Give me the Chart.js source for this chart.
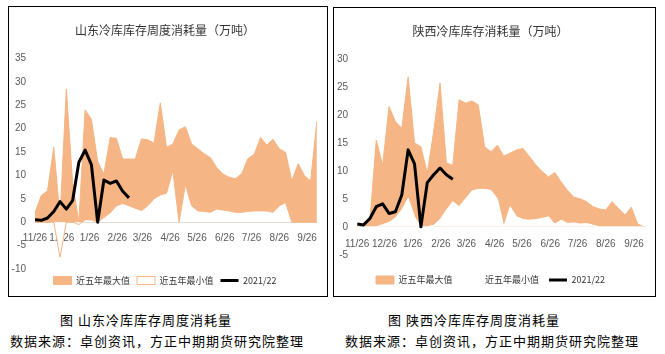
<!DOCTYPE html>
<html>
<head>
<meta charset="utf-8">
<script src="https://cdn.jsdelivr.net/npm/chart.js@4.4.1/dist/chart.umd.min.js"></script>
<style>
  body { margin: 0; width: 665px; height: 354px; background: #fff; position: relative; overflow: hidden;
         font-family: "Noto Sans CJK SC", sans-serif; }
  .panel { position: absolute; border: 1px solid #000; }
  #p1 { left: 8px; top: 6px; width: 318px; height: 289px; }
  #p2 { left: 333px; top: 7px; width: 321px; height: 288px; }
  .cap { position: absolute; font-size: 13px; color: #000; letter-spacing: 1px; white-space: nowrap; }
</style>
</head>
<body>
<div class="panel" id="p1"><canvas id="chart1" width="318" height="289"></canvas></div>
<div class="panel" id="p2"><canvas id="chart2" width="321" height="288"></canvas></div>
<div class="cap" style="left:60px;top:310px;">图 山东冷库库存周度消耗量</div>
<div class="cap" style="left:10px;top:331px;">数据来源：卓创资讯，方正中期期货研究院整理</div>
<div class="cap" style="left:388px;top:310px;">图 陕西冷库库存周度消耗量</div>
<div class="cap" style="left:345px;top:331px;">数据来源：卓创资讯，方正中期期货研究院整理</div>
<script>
// month ticks, as days after 11/26
const tickDays = [0, 30, 61, 92, 120, 151, 181, 212, 242, 273, 304];
const tickLabels = ["11/26", "12/26", "1/26", "2/26", "3/26", "4/26", "5/26", "6/26", "7/26", "8/26", "9/26"];
const seriesNames = ["近五年最大值", "近五年最小值", "2021/22"];

// Shandong, weekly
const sdMax = [2, 5.7, 6.7, 16, 1, 28.5, 8.5, 0, 24, 22, 13, 10.3, 18.1, 17.9, 13.5, 13.5,
               13.5, 17.8, 17.6, 16.9, 25.5, 16, 16.7, 19.7, 20.4, 16.7, 15.7, 14.6, 13.8, 11.7, 10.3, 9.6,
               9.3, 10.4, 13.6, 14.5, 18.1, 16.5, 17.7, 15.7, 14.9, 8.8, 12.5, 10, 8.8, 21.6];
const sdMin = [0, 0, 0, 0, -7.5, 0, 0, -0.5, 0.5, 0.5, 0, 1, 2, 3.5, 4, 3.5,
               3, 2.5, 3.5, 5, 5.8, 6.2, 11, 0, 8, 3.5, 2.4, 2.3, 2.1, 2.8, 2.6, 2.4,
               2.1, 2.1, 2.3, 2.4, 2.4, 2.4, 2.1, 3.5, 4.2, 0, 0, 0, 0, 0];
const sdCur = [0.5, 0.4, 0.9, 2.3, 4.4, 2.8, 4.6, 12.8, 15.4, 12.3, 0, 9.0, 8.3, 8.8, 6.6, 5.2];
const sdTicks = [-10, -5, 0, 5, 10, 15, 20, 25, 30, 35];

// Shaanxi, weekly
const sxMax = [0, 0.3, 1, 15.5, 11, 21.5, 18.8, 17.6, 26.8, 15, 14.3, 9.6, 17, 25.7, 11.4, 11,
               22.7, 22.1, 22.5, 21.8, 14.3, 13.4, 14.6, 12.6, 13.2, 13.75, 14, 12.6, 11.1, 9.9, 8.9, 9.7,
               8, 6.5, 5.3, 5, 4.5, 3.6, 3.2, 3, 4.5, 3.3, 2.1, 3.5, 0.5, 0];
const sxMin = [0, 0, 0, 0, 0.4, 0.8, 1.6, 3, 5.1, 1.8, 0, 0, 0.3, 1.3, 3, 4.5,
               3.6, 5, 6.4, 6.7, 6.7, 6.5, 5, 0, 3.6, 1.8, 1.3, 1.2, 1.3, 1.5, 1.8, 0.5,
               1.2, 0.6, 0.7, 0.5, 0.6, 0.3, 0, 0, 0, 0, 0, 0, 0, 0];
const sxCur = [0.5, 0.35, 1.5, 3.6, 4.1, 2.4, 2.7, 5.7, 13.75, 11.25, 0, 7.9, 9.3, 10.5, 9.3, 8.5];
const sxTicks = [-5, 0, 5, 10, 15, 20, 25, 30];

const orange = "#F5B584";
const cjk = "'Noto Sans CJK SC', sans-serif";
const narrow = "'Liberation Sans Narrow', 'Liberation Sans', sans-serif";

//weekly values -> points on the day axis
function toPoints(vals){
    return vals.map((v, i) => ({x: i * 7, y: v}));
}

function drawChart(id, cfg){
    var ctx = document.getElementById(id).getContext('2d');
    var datasets = [
        {label: seriesNames[0], data: toPoints(cfg.max), borderColor: orange, borderWidth: 1,
         backgroundColor: orange, fill: 'origin', pointRadius: 0, pointStyle: 'rect', tension: 0, order: 2},
        {label: seriesNames[1], data: toPoints(cfg.min), borderColor: cfg.minBorder, borderWidth: 1,
         backgroundColor: "#fff", fill: 'origin', pointRadius: 0, pointStyle: 'rect', tension: 0, order: 1},
        {label: seriesNames[2], data: toPoints(cfg.cur), borderColor: "#000", borderWidth: 3,
         backgroundColor: "#000", fill: false, pointRadius: 0, pointStyle: 'line', tension: 0,
         borderJoinStyle: 'round', order: 0}
    ];
    return new Chart(ctx, {
        type: 'line',
        data: {datasets: datasets},
        options: {
            responsive: false,
            animation: false,
            layout: {padding: {left: 0, right: cfg.padRight, top: 0, bottom: cfg.padBottom}},
            scales: {
                x: {
                    type: 'linear', position: {y: 0}, min: 0, max: 315, z: 1,
                    grid: {display: false, drawTicks: false},
                    border: {display: true, color: "#D9D9D9", width: 1},
                    afterBuildTicks: s => { s.ticks = tickDays.map(d => ({value: d})); },
                    ticks: {autoSkip: false, maxRotation: 0, padding: cfg.xPad, color: "#595959",
                            font: {family: narrow, size: 10}, callback: (v, i) => tickLabels[i]}
                },
                y: {
                    min: cfg.yMin, max: cfg.yMax,
                    grid: {display: false, drawTicks: false},
                    border: {display: false},
                    afterBuildTicks: s => { s.ticks = cfg.yTicks.map(v => ({value: v})); },
                    afterFit: s => { s.width = cfg.yWidth; },
                    ticks: {padding: 9, color: "#595959", font: {family: narrow, size: 10}}
                }
            },
            plugins: {
                tooltip: {enabled: false},
                title: {display: true, text: cfg.title, color: "#333",
                        font: {family: cjk, size: 12, weight: 'normal'},
                        padding: {top: cfg.titleTop, bottom: cfg.titleBottom}},
                legend: {
                    position: 'bottom',
                    labels: {usePointStyle: true, pointStyleWidth: 18, boxHeight: 8, padding: cfg.legPad,
                             color: "#333", font: {family: cjk, size: 9},
                             sort: (a, b) => a.datasetIndex - b.datasetIndex}
                }
            }
        }
    });
}

drawChart("chart1", {title: "山东冷库库存周度消耗量（万吨）", max: sdMax, min: sdMin, cur: sdCur,
    minBorder: orange, yMin: -10, yMax: 35, yTicks: sdTicks, yWidth: 26, padRight: 6, padBottom: 1,
    xPad: 10, titleTop: 16, titleBottom: 21, legPad: 7});
drawChart("chart2", {title: "陕西冷库库存消耗量（万吨）", max: sxMax, min: sxMin, cur: sxCur,
    minBorder: "#fff", yMin: -6.9, yMax: 30, yTicks: sxTicks, yWidth: 22, padRight: 8, padBottom: 1.5,
    xPad: 11, titleTop: 16.5, titleBottom: 20, legPad: 10});
</script>
</body>
</html>
